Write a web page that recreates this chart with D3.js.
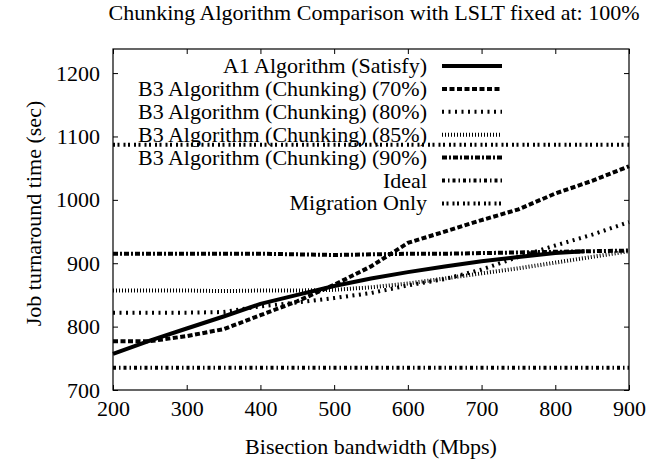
<!DOCTYPE html>
<html>
<head>
<meta charset="utf-8">
<script src="https://cdn.jsdelivr.net/npm/d3@7"></script>
<style>
  body { margin: 0; background: #fff; }
</style>
</head>
<body>
<div class="chart"></div>
<script>
"use strict";

// data
const bandwidth = [200, 250, 300, 350, 400, 450, 500, 550, 600, 650, 700, 750, 800, 850, 900];
const a1Bandwidth = [200, 250, 300, 350, 400, 450, 500, 550, 600, 650, 700, 750, 800, 840];
const a1Satisfy = [757, 778, 797, 816, 836, 850, 864, 876, 886, 895, 903, 910, 916, 919];
const b3Chunk70 = [777, 777, 785, 796, 818, 840, 866, 895, 932, 950, 968, 985, 1010, 1030, 1053];
const b3Chunk80 = [822, 822, 822, 823, 832, 838, 845, 853, 865, 875, 890, 910, 928, 945, 965];
const b3Chunk85 = [857, 857, 857, 856, 857, 857, 858, 862, 868, 876, 884, 892, 901, 910, 919];
const b3Chunk90 = [915, 915, 915, 915, 915, 914, 913, 914, 915, 915, 916, 917, 918, 919, 920];
const ideal = [735, 735, 735, 735, 735, 735, 735, 735, 735, 735, 735, 735, 735, 735, 735];
const migrationOnly = [1087, 1087, 1087, 1087, 1087, 1087, 1087, 1087, 1087, 1087, 1087, 1087, 1087, 1087, 1087];

const seriesNames = [
  "A1 Algorithm (Satisfy)",
  "B3 Algorithm (Chunking) (70%)",
  "B3 Algorithm (Chunking) (80%)",
  "B3 Algorithm (Chunking) (85%)",
  "B3 Algorithm (Chunking) (90%)",
  "Ideal",
  "Migration Only"
];
const xTicks = [200, 300, 400, 500, 600, 700, 800, 900];
const yTicks = [700, 800, 900, 1000, 1100, 1200];

// gnuplot-ish dash styles
const dashes = [null, "5,2.5", "2,4.5", "1,2", "5,2,2,2", "3,3,1.5,3", "2,2.5,2,4"];

const series = [
  {x: a1Bandwidth, y: a1Satisfy},
  {x: bandwidth, y: b3Chunk70},
  {x: bandwidth, y: b3Chunk80},
  {x: bandwidth, y: b3Chunk85},
  {x: bandwidth, y: b3Chunk90},
  {x: bandwidth, y: ideal},
  {x: bandwidth, y: migrationOnly}
].map((s, i) => ({
  name: seriesNames[i],
  dash: dashes[i],
  points: s.x.map((x, j) => ({x: x, y: s.y[j]}))
}));

const W = 649, H = 465;
const plot = {left: 113, right: 629, top: 49, bottom: 390};
const FONT = "'Liberation Serif', 'Times New Roman', Times, 'DejaVu Serif', serif";

const svg = d3.select(".chart")
  .append("svg")
  .attr("width", W)
  .attr("height", H)
  .style("font-family", FONT);

const xScale = d3.scaleLinear().domain([200, 900]).range([plot.left, plot.right]);
const yScale = d3.scaleLinear().domain([700, 1238]).range([plot.bottom, plot.top]);

// axes, ticks pointing inward, mirrored on top/right
svg.append("g")
  .attr("transform", `translate(0,${plot.bottom})`)
  .call(d3.axisBottom(xScale).tickValues(xTicks).tickSize(-5).tickPadding(11).tickFormat(d3.format("d")))
  .call(g => g.selectAll("text").attr("dy", "0.68em"));

svg.append("g")
  .attr("transform", `translate(0,${plot.top})`)
  .call(d3.axisTop(xScale).tickValues(xTicks).tickSize(-5).tickFormat(""));

svg.append("g")
  .attr("transform", `translate(${plot.left},0)`)
  .call(d3.axisLeft(yScale).tickValues(yTicks).tickSize(-5).tickPadding(13).tickFormat(d3.format("d")));

svg.append("g")
  .attr("transform", `translate(${plot.right},0)`)
  .call(d3.axisRight(yScale).tickValues(yTicks).tickSize(-5).tickFormat(""));

svg.selectAll(".domain").remove();
svg.selectAll(".tick line").attr("stroke", "#000");
svg.selectAll(".tick text")
  .style("font-family", FONT)
  .attr("font-size", 22)
  .attr("fill", "#000");

svg.append("rect")
  .attr("x", plot.left)
  .attr("y", plot.top)
  .attr("width", plot.right - plot.left)
  .attr("height", plot.bottom - plot.top)
  .attr("fill", "none")
  .attr("stroke", "#000")
  .attr("stroke-width", 1.2);

// lines
const line = d3.line().x(d => xScale(d.x)).y(d => yScale(d.y));

svg.selectAll(".series")
  .data(series)
  .enter()
  .append("path")
  .attr("class", "series")
  .attr("d", d => line(d.points))
  .attr("fill", "none")
  .attr("stroke", "#000")
  .attr("stroke-width", 4)
  .attr("stroke-dasharray", d => d.dash);

// legend
const legend = svg.append("g");
const legY = i => 66 + i * 22.9;

legend.selectAll("text")
  .data(series)
  .enter()
  .append("text")
  .attr("x", 427)
  .attr("y", (d, i) => legY(i) + 7)
  .attr("text-anchor", "end")
  .style("font-family", FONT)
  .attr("font-size", 22)
  .text(d => d.name);

legend.selectAll("line")
  .data(series)
  .enter()
  .append("line")
  .attr("x1", 442)
  .attr("x2", 502)
  .attr("y1", (d, i) => legY(i))
  .attr("y2", (d, i) => legY(i))
  .attr("stroke", "#000")
  .attr("stroke-width", 4)
  .attr("stroke-dasharray", d => d.dash);

// titles
svg.append("text")
  .attr("x", 374)
  .attr("y", 20)
  .attr("text-anchor", "middle")
  .style("font-family", FONT)
  .attr("font-size", 22)
  .text("Chunking Algorithm Comparison with LSLT fixed at: 100%");

svg.append("text")
  .attr("x", (plot.left + plot.right) / 2)
  .attr("y", 454)
  .attr("text-anchor", "middle")
  .style("font-family", FONT)
  .attr("font-size", 22)
  .text("Bisection bandwidth (Mbps)");

svg.append("text")
  .attr("transform", `translate(41,${(plot.top + plot.bottom) / 2 - 6}) rotate(-90)`)
  .attr("text-anchor", "middle")
  .style("font-family", FONT)
  .attr("font-size", 22)
  .text("Job turnaround time (sec)");
</script>
</body>
</html>
